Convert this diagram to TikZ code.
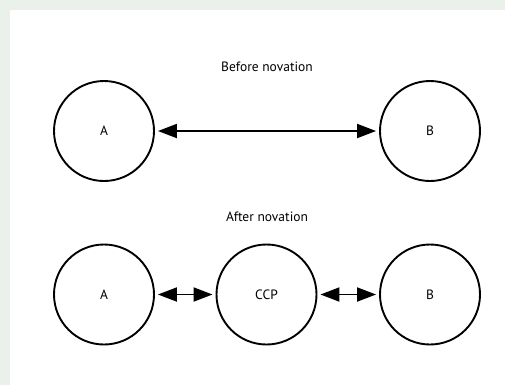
\documentclass[tikz,border=0pt]{standalone}
\usepackage{fontspec}
\setmainfont{PT Sans}
\usetikzlibrary{arrows.meta}
\definecolor{bggreen}{HTML}{EAF1EA}
\begin{document}
\begin{tikzpicture}[x=1bp,y=-1bp,
  party/.style={circle,draw,line width=1.9bp,minimum size=100bp,inner sep=0pt,font=\fontsize{13.5bp}{15bp}\selectfont},
  title/.style={font=\fontsize{13.5bp}{15bp}\selectfont},
  link/.style={line width=1.9bp,{Triangle[length=19bp,width=14bp]}-{Triangle[length=19bp,width=14bp]},shorten <=3bp,shorten >=3bp}]
\fill[bggreen] (0,0) rectangle (505,385);
\fill[white] (10,10) rectangle (505,385);
\useasboundingbox (0,0) rectangle (505,385);
\node[title] (t1) at (267,67) {Before novation};
\node[party] (a1) at (104,131) {A};
\node[party] (b1) at (430,131) {B};
\draw[link] (a1) -- (b1);
\node[title] (t2) at (267,217) {After novation};
\node[party] (a2) at (104,294.5) {A};
\node[party] (c2) at (266.5,294.5) {CCP};
\node[party] (b2) at (430,294.5) {B};
\draw[link] (a2) -- (c2);
\draw[link] (c2) -- (b2);
\end{tikzpicture}
\end{document}
